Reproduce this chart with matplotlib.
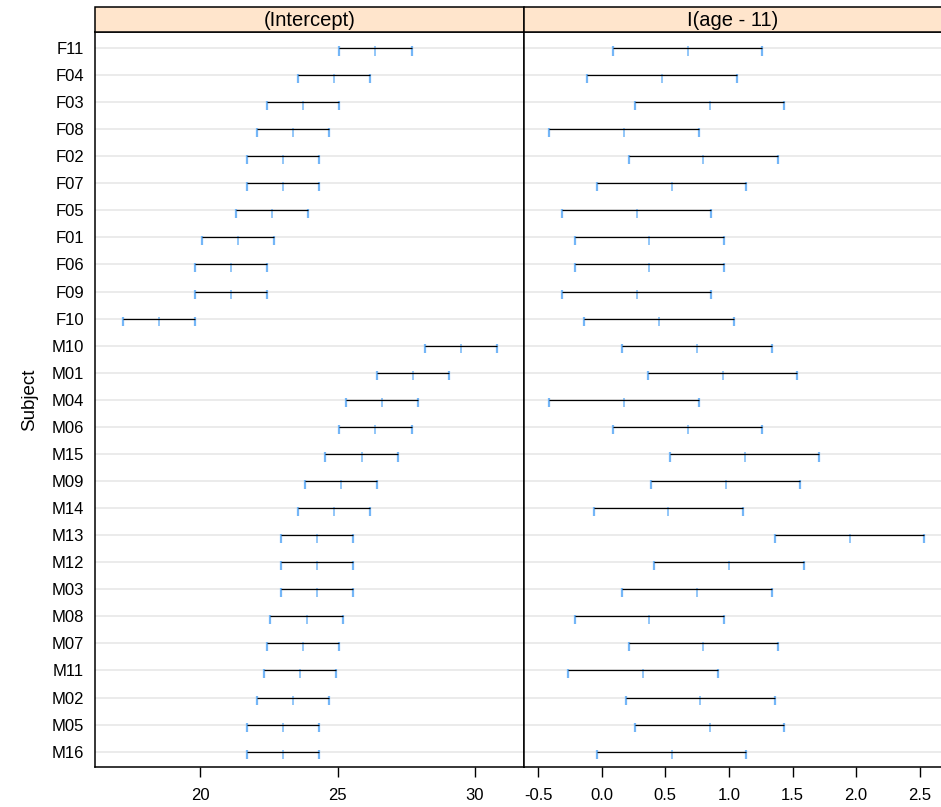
import matplotlib
matplotlib.use("Agg")
import matplotlib.pyplot as plt
from matplotlib.patches import Rectangle

plt.rcParams['font.family'] = ['Liberation Sans', 'DejaVu Sans']

subjects = ["F11", "F04", "F03", "F08", "F02", "F07", "F05", "F01", "F06", "F09", "F10",
            "M10", "M01", "M04", "M06", "M15", "M09", "M14", "M13", "M12", "M03",
            "M08", "M07", "M11", "M02", "M05", "M16"]

int_est = [26.375, 24.875, 23.75, 23.375, 23.0, 23.0, 22.625, 21.375, 21.125, 21.125, 18.5,
           29.5, 27.75, 26.625, 26.375, 25.875, 25.125, 24.875, 24.25, 24.25, 24.25,
           23.875, 23.75, 23.625, 23.375, 23.0, 23.0]
int_lower = [25.06, 23.56, 22.44, 22.06, 21.69, 21.69, 21.31, 20.06, 19.81, 19.81, 17.19,
             28.19, 26.44, 25.31, 25.06, 24.56, 23.81, 23.56, 22.94, 22.94, 22.94,
             22.56, 22.44, 22.31, 22.06, 21.69, 21.69]
int_upper = [27.69, 26.19, 25.06, 24.69, 24.31, 24.31, 23.94, 22.69, 22.44, 22.44, 19.81,
             30.81, 29.06, 27.94, 27.69, 27.19, 26.44, 26.19, 25.56, 25.56, 25.56,
             25.19, 25.06, 24.94, 24.69, 24.31, 24.31]

slope_est = [0.675, 0.475, 0.85, 0.175, 0.8, 0.55, 0.275, 0.375, 0.375, 0.275, 0.45,
             0.75, 0.95, 0.175, 0.675, 1.125, 0.975, 0.525, 1.95, 1.0, 0.75,
             0.375, 0.8, 0.325, 0.775, 0.85, 0.55]
slope_lower = [0.088, -0.112, 0.263, -0.412, 0.213, -0.037, -0.312, -0.212, -0.212, -0.312, -0.137,
               0.163, 0.363, -0.412, 0.088, 0.538, 0.388, -0.062, 1.363, 0.413, 0.163,
               -0.212, 0.213, -0.262, 0.188, 0.263, -0.037]
slope_upper = [1.262, 1.062, 1.437, 0.762, 1.387, 1.137, 0.862, 0.962, 0.962, 0.862, 1.037,
               1.337, 1.537, 0.762, 1.262, 1.712, 1.562, 1.112, 2.537, 1.587, 1.337,
               0.962, 1.387, 0.912, 1.362, 1.437, 1.137]

panel_titles = ["(Intercept)", "I(age - 11)"]
xticks_int = [20, 25, 30]
xticks_slope = [-0.5, 0.0, 0.5, 1.0, 1.5, 2.0, 2.5]
y_label = "Subject"

W, H = 941, 807
fig = plt.figure(figsize=(W / 100, H / 100), dpi=100)

def fx(px):
    return px / W

def fy(py):
    return 1 - py / H

top_px, bot_px = 32.0, 766.7
strip_top = 7.3
left_px, mid_px, right_px = 95.3, 523.7, 942.5

ax1 = fig.add_axes([fx(left_px), fy(bot_px), fx(mid_px - left_px), (bot_px - top_px) / H])
ax2 = fig.add_axes([fx(mid_px), fy(bot_px), fx(right_px - mid_px), (bot_px - top_px) / H])

blue = '#74b6f7'
n = len(subjects)
rows = list(range(n))

def draw(ax, lo, est, up, xlim, xticks, ticklabels):
    for r in rows:
        ax.axhline(r, color='#e6e6e6', lw=1.1, zorder=1)
    ax.vlines(lo, [r - 0.055 for r in rows], [r + 0.28 for r in rows], color=blue, lw=1.6, zorder=2)
    ax.vlines(up, [r - 0.055 for r in rows], [r + 0.28 for r in rows], color=blue, lw=1.6, zorder=2)
    ax.vlines(est, [r - 0.055 for r in rows], [r + 0.28 for r in rows], color=blue, lw=1.1, zorder=2)
    ax.hlines(rows, lo, up, color='black', lw=0.9, zorder=3)
    ax.set_xlim(*xlim)
    ax.set_ylim(n - 1 + 0.555, -0.59)
    ax.set_xticks(xticks)
    ax.set_xticklabels(ticklabels)
    ax.tick_params(axis='x', length=7, width=1.0, pad=8, labelsize=12, direction='out')
    for s in ax.spines.values():
        s.set_linewidth(1.1)

draw(ax1, int_lower, int_est, int_upper, (16.19, 31.77), xticks_int, [str(t) for t in xticks_int])
draw(ax2, slope_lower, slope_est, slope_upper, (-0.613, 2.679), xticks_slope,
     ["%.1f" % t for t in xticks_slope])

ax1.set_yticks(rows)
ax1.set_yticklabels(subjects)
ax1.tick_params(axis='y', length=0, pad=8, labelsize=12)
ax2.set_yticks([])
ax2.spines['right'].set_visible(False)
ax1.set_ylabel(y_label, fontsize=13.5, labelpad=10)

# strips
for (x0, x1, title) in [(left_px, mid_px, panel_titles[0]), (mid_px, right_px, panel_titles[1])]:
    rect = Rectangle((fx(x0), fy(top_px)), fx(x1 - x0), (top_px - strip_top) / H,
                     transform=fig.transFigure, facecolor='#ffe5cc', edgecolor='black',
                     lw=1.1, zorder=5)
    fig.patches.append(rect)
    fig.text(fx((x0 + x1) / 2), fy((top_px + strip_top) / 2 + 0.5),
             title, ha='center', va='center', fontsize=14.5, zorder=6)

fig.savefig("out.png", dpi=100)
